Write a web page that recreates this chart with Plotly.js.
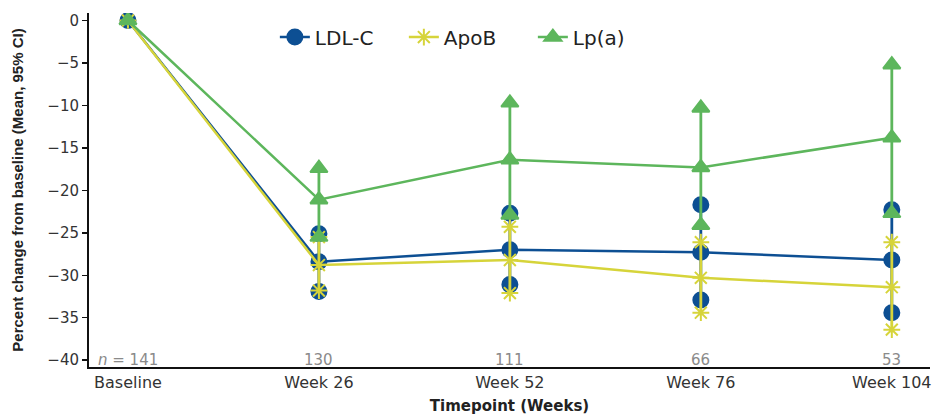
<!DOCTYPE html>
<html><head><meta charset="utf-8">
<script src="https://cdn.plot.ly/plotly-3.0.1.min.js"></script>
<style>html,body{margin:0;padding:0;background:#fff}#chart{width:932px;height:415px}</style>
</head><body><div id="chart"></div>
<script>
const categories = ["Baseline", "Week 26", "Week 52", "Week 76", "Week 104"];
const nLabels = ["<i>n</i> = 141", "130", "111", "66", "53"];

const ldlMean  = [0, -28.4, -27.0, -27.3, -28.2];
const ldlLower = [0, -31.9, -31.1, -32.9, -34.4];
const ldlUpper = [0, -25.1, -22.7, -21.7, -22.3];

const apobMean  = [0, -28.8, -28.2, -30.3, -31.4];
const apobLower = [0, -31.8, -32.1, -34.4, -36.4];
const apobUpper = [0, -25.5, -24.3, -26.1, -26.1];

const lpaMean  = [0, -21.1, -16.4, -17.3, -13.8];
const lpaLower = [0, -25.5, -22.9, -24.1, -22.7];
const lpaUpper = [0, -17.4, -9.7, -10.3, -5.2];

const series = [
  {name: "LDL-C", mean: ldlMean, lo: ldlLower, hi: ldlUpper, color: "#0d4f93", symbol: "circle", size: 15},
  {name: "ApoB", mean: apobMean, lo: apobLower, hi: apobUpper, color: "#d6d43a", symbol: "asterisk-open", size: 14},
  {name: "Lp(a)", mean: lpaMean, lo: lpaLower, hi: lpaUpper, color: "#5db65c", symbol: "triangle-up", size: 15}
];

const xs = categories.map((c, i) => i);
const traces = [];
series.forEach(s => {
  traces.push({
    type: "scatter", mode: "lines+markers", name: s.name,
    x: xs, y: s.mean,
    line: {color: s.color, width: 2.5},
    marker: {color: s.color, symbol: s.symbol, size: s.size, line: {color: s.color, width: 2}},
    error_y: {type: "data", symmetric: false,
      array: s.hi.map((v, i) => v - s.mean[i]),
      arrayminus: s.mean.map((v, i) => v - s.lo[i]),
      color: s.color, thickness: 2.8, width: 0}
  });
  const bx = [], by = [];
  xs.forEach((x, i) => { if (i > 0) { bx.push(x, x); by.push(s.lo[i], s.hi[i]); } });
  traces.push({
    type: "scatter", mode: "markers", showlegend: false, hoverinfo: "skip",
    x: bx, y: by,
    marker: {color: s.color, symbol: s.symbol, size: s.size, line: {color: s.color, width: 2}}
  });
});

const annotations = nLabels.map((t, i) => ({
  x: i, y: -40, xref: "x", yref: "y", text: t, showarrow: false,
  font: {family: "DejaVu Sans, sans-serif", size: 15, color: "#8a8a8a"}
}));

const layout = {
  width: 932, height: 415,
  margin: {l: 89, r: 2, t: 13, b: 48},
  paper_bgcolor: "#fff", plot_bgcolor: "#fff",
  font: {family: "DejaVu Sans, sans-serif", color: "#333"},
  showlegend: true,
  legend: {orientation: "h", x: 0.221, y: 0.932, xanchor: "left", yanchor: "middle",
    entrywidth: 84, entrywidthmode: "pixels",
    font: {family: "DejaVu Sans, sans-serif", size: 20, color: "#222"}, bgcolor: "rgba(0,0,0,0)"},
  xaxis: {
    range: [-0.204, 4.2], tickvals: xs, ticktext: categories,
    showgrid: false, zeroline: false, showline: true, linecolor: "#111", linewidth: 2,
    ticks: "", tickfont: {size: 16, color: "#333"},
    title: {text: "<b>Timepoint (Weeks)</b>", font: {family: "DejaVu Sans, sans-serif", size: 15, color: "#222"}, standoff: 14}
  },
  yaxis: {
    range: [-40.8, 0.88], tickvals: [0, -5, -10, -15, -20, -25, -30, -35, -40],
    ticktext: ["0", "\u22125", "\u221210", "\u221215", "\u221220", "\u221225", "\u221230", "\u221235", "\u221240"],
    showgrid: false, zeroline: false, showline: true, linecolor: "#111", linewidth: 2,
    ticks: "outside", ticklen: 5, tickwidth: 1.5, tickcolor: "#111",
    tickfont: {size: 15, color: "#333"},
    title: {text: "<b>Percent change from baseline (Mean, 95% CI)</b>", font: {family: "Liberation Sans, Arial, sans-serif", size: 15, color: "#222"}, standoff: 20}
  },
  annotations: annotations
};

Plotly.newPlot("chart", traces, layout, {displayModeBar: false, staticPlot: true});
</script>
</body></html>
